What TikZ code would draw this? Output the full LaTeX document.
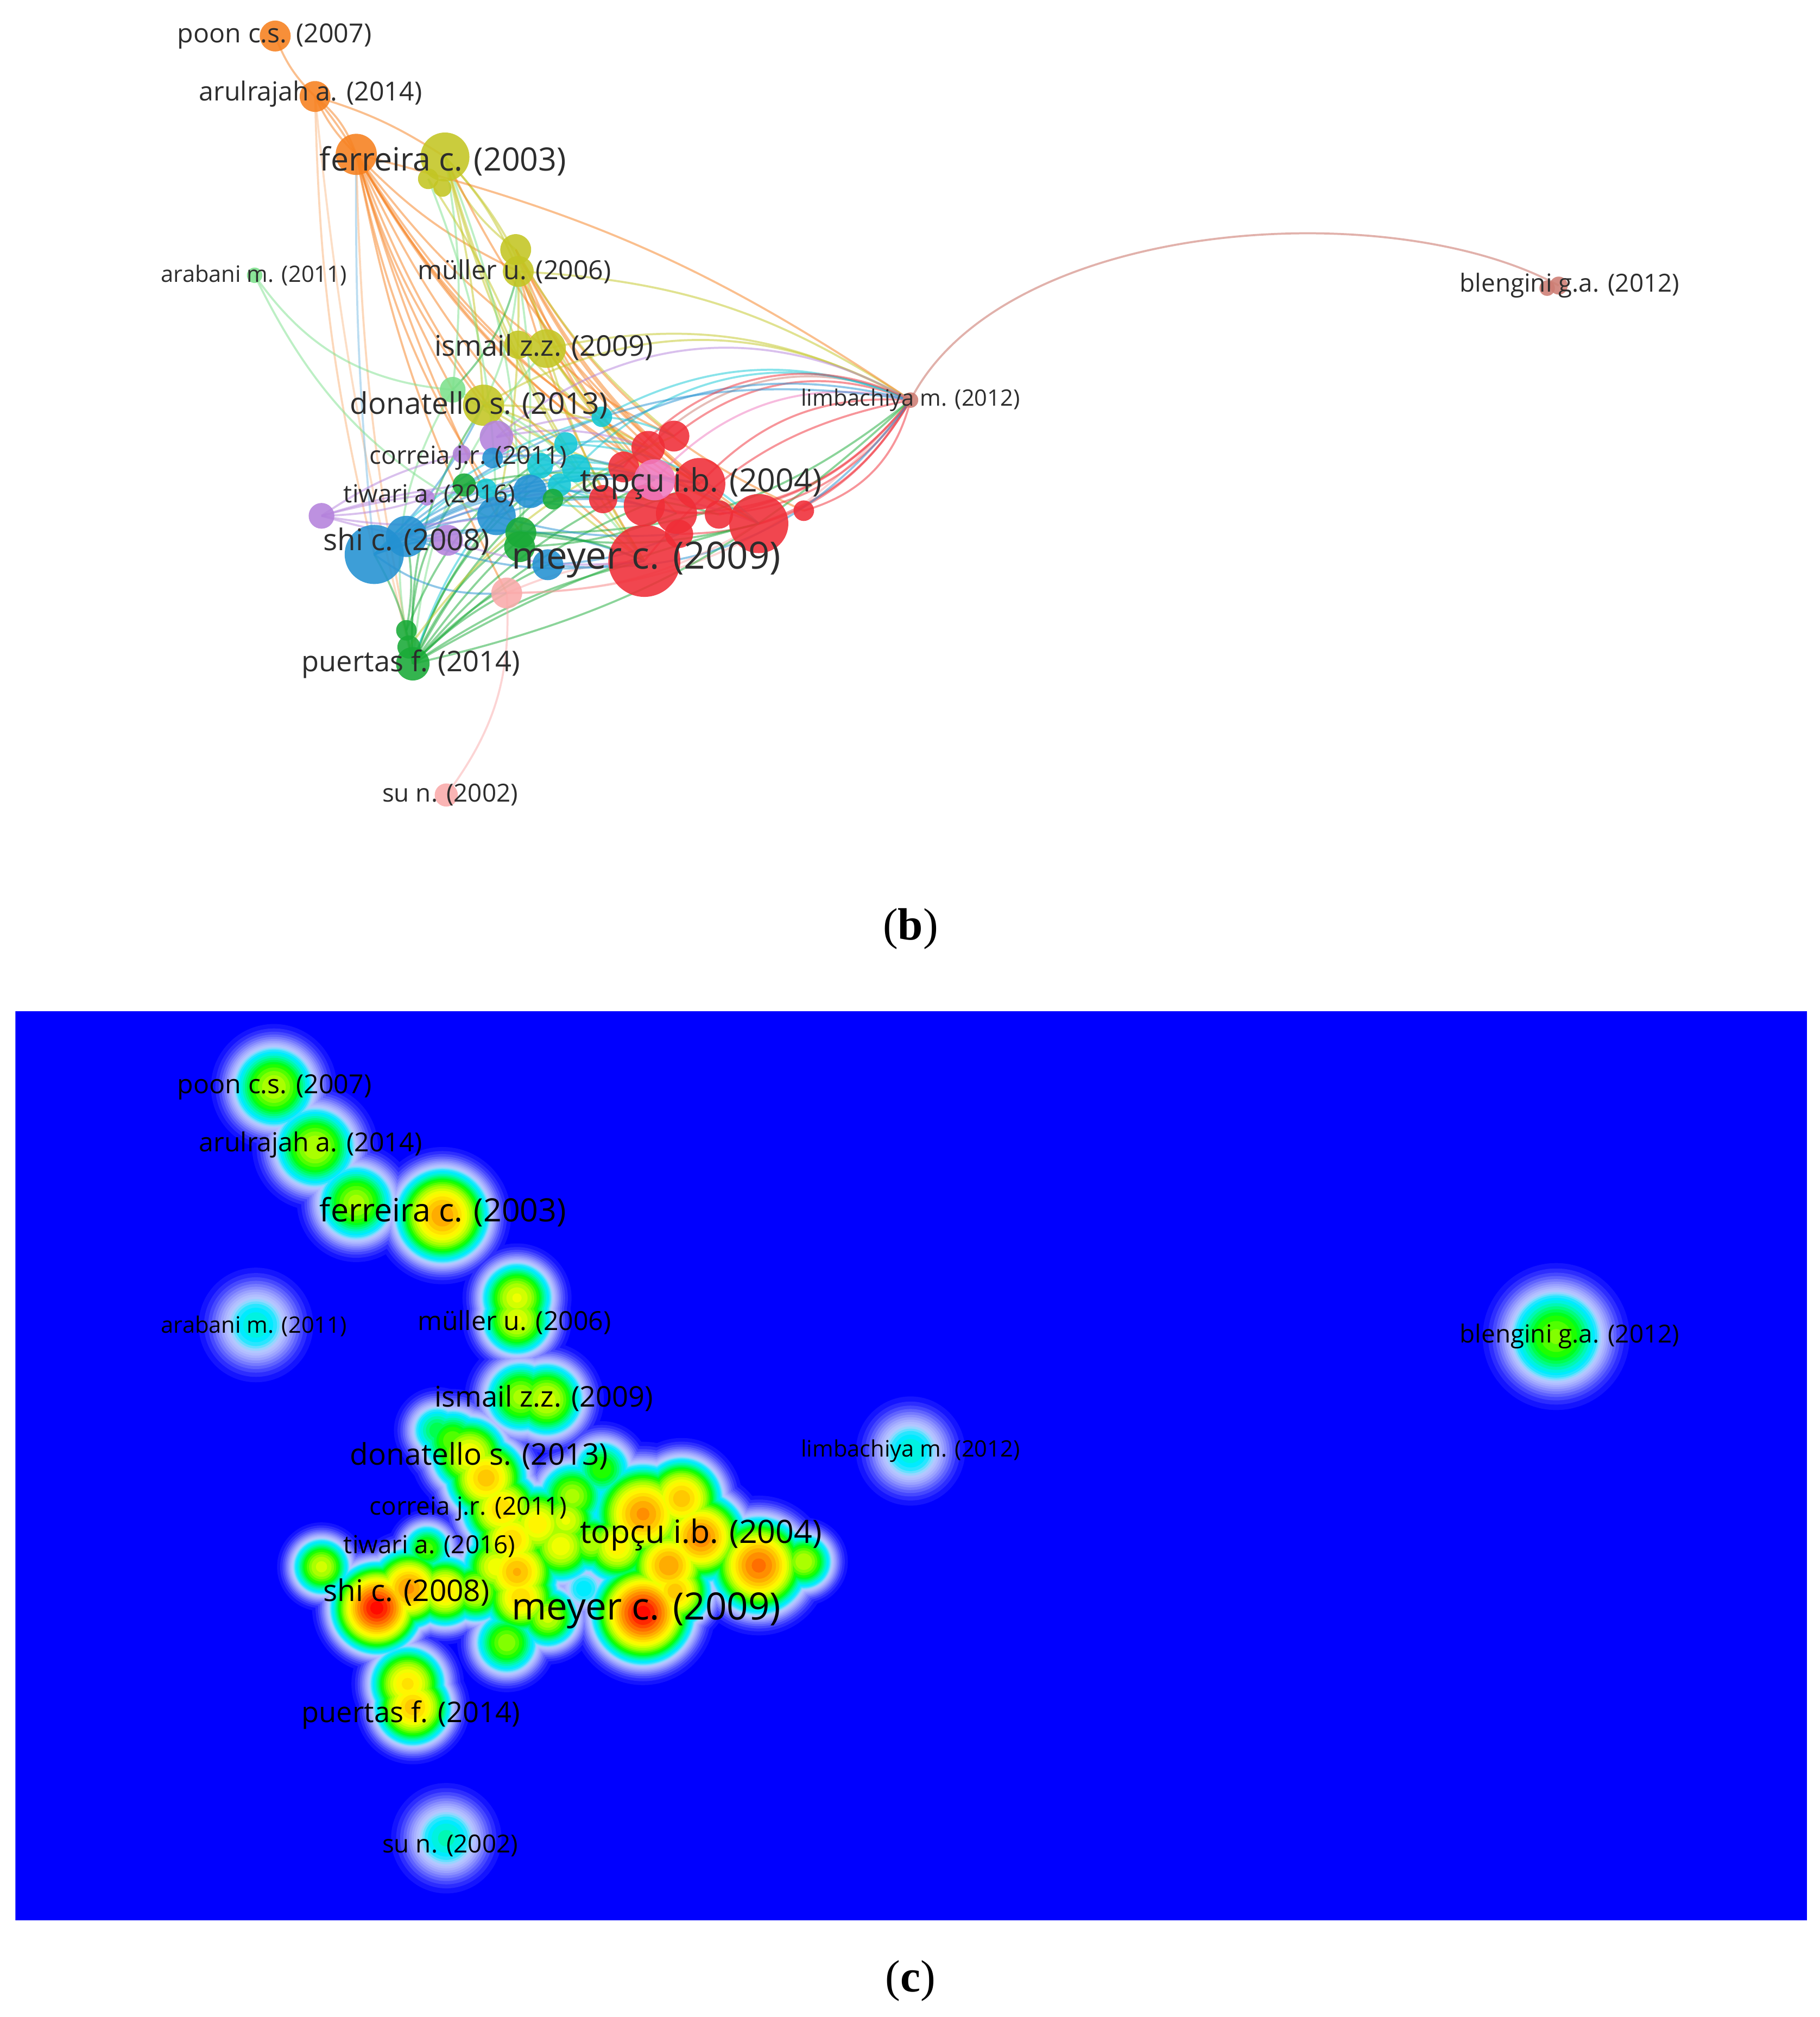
\documentclass[tikz,border=0pt]{standalone}
\usepackage{fontspec}
\newfontfamily\labfont{Open Sans}
\newfontfamily\capfont{Liberation Serif}
\definecolor{cOr}{RGB}{247,128,30}
\definecolor{cOl}{RGB}{195,198,35}
\definecolor{cLg}{RGB}{125,225,140}
\definecolor{cGr}{RGB}{25,170,55}
\definecolor{cCy}{RGB}{20,200,215}
\definecolor{cBl}{RGB}{35,145,210}
\definecolor{cPu}{RGB}{180,130,220}
\definecolor{cRe}{RGB}{240,45,55}
\definecolor{cPk}{RGB}{240,120,190}
\definecolor{cLp}{RGB}{250,170,170}
\definecolor{cBr}{RGB}{205,125,115}
\definecolor{txt}{RGB}{45,45,45}
\definecolor{hblue}{RGB}{0,0,255}
\begin{document}
\def\nodelist{r1/501/436/28/cRe, b4/291/431/23/cBl, r9/590/407/23/cRe, r5/544/376/20/cRe,
 o1/214/28/12/cOr, o2/245/75/12/cOr, o3/277/120/16/cOr,
 y1/346/122/19/cOl, y2/333/139/8/cOl, y3/344/146/7/cOl, y4/401/194/12/cOl, y5/403/211/12/cOl,
 y6/403/268/11/cOl, y7/425/271/15/cOl, lg1/198/214/6/cLg, lg2/352/303/10/cLg, y8/376/315/16/cOl,
 c1/468/324/8/cCy, c2/440/345/9/cCy, c3/448/364/11/cCy, c4/435/377/9/cCy, c5/420/362/10/cCy, c6/378/380/8/cCy,
 p1/386/340/13/cPu, p2/359/353/7/cPu, p3/332/387/6/cPu, p4/250/401/10/cPu, p5/348/420/12/cPu,
 b1/383/356/8/cBl, b2/412/382/13/cBl, b3/386/401/15/cBl, b5/316/417/16/cBl, b6/426/439/12/cBl,
 g1/361/377/9/cGr, g2/430/388/8/cGr, g3/405/414/12/cGr, g4/404/425/12/cGr,
 g5/316/490/8/cGr, g6/318/503/9/cGr, g7/321/516/13/cGr,
 lp1/394/461/12/cLp, lp2/347/618/9/cLp,
 r2/524/339/12/cRe, r3/504/348/13/cRe, r4/485/363/12/cRe, r6/526/399/16/cRe, r7/469/388/11/cRe,
 r8/501/393/16/cRe, r10/559/400/11/cRe, r11/625/397/8/cRe, r12/528/415/11/cRe, pk1/509/373/16/cPk,
 br1/708/311/6/cBr, br3/1203/224/6/cBr, br2/1212/222/7/cBr}
\def\edgelist{o1/o2/cOr/-12, o2/o3/cOr/-10, o2/o3/cOr/4, o2/o3/cOr/15, o2/y1/cOr/8, o2/b4/cOr!60/-6, o2/g7/cOr!50/-4,
 o3/y8/cOr/-10, o3/lp1/cOr/-8, o3/b3/cOr/-5, o3/g3/cOr/-12, o3/r1/cOr/-15, o3/c3/cOr/-10, o3/r3/cOr/-15,
 o3/pk1/cOr/-12, o3/y5/cOr/-10, o3/y7/cOr/-8, o3/r9/cOr/-18, o3/r5/cOr/-14, o3/b4/cBl!60/-3, o3/g7/cOr!60/-5, o3/lg2/cOr/-6,
 y1/y4/cOl/-15, y1/y5/cOl/10, y1/y7/cOl/15, y1/y8/cOl/5, y1/lg2/cLg/8, y1/r1/cOl/-10, y1/r5/cOr/-12, y1/c3/cOl/-8, y1/g3/cLg/10,
 y2/y6/cOl/5, y2/b3/cLg/10, y4/r9/cOr/-14, y4/r5/cOr/-12, y4/r11/cOr/-18, y4/r2/cOl/-10, y4/pk1/cOr/-10,
 y5/r1/cOr/-8, y5/c1/cOl/-6, y5/r6/cOr/-10, y5/r9/cOr/-16, y5/g3/cLg/8, y5/y8/cLg/10, y5/b3/cOl/6, y5/lg2/cGr/15,
 y6/r5/cOl/-10, y7/r2/cOr/-10, y7/r9/cOr/-15, y7/c1/cOl/-5, y7/pk1/cOl/-6, y7/r1/cOl/-8, y8/r1/cOl/-10, y8/r5/cOl/-12,
 r1/br1/cRe/20, r5/br1/cRe/25, r9/br1/cRe/-20, r6/br1/cRe/-25, r2/br1/cRe/30, r3/br1/cBr/35, pk1/br1/cPk/30,
 c1/br1/cCy/25, c3/br1/cCy/35, b3/br1/cBl/30, b4/br1/cBl/25, g3/br1/cGr/-20, y8/br1/cOl/30, y7/br1/cOl/20,
 y5/br1/cOl/15, lp1/br1/cLp/-25, g7/br1/cGr/-15, o3/br1/cOr/10, r11/br1/cRe/-30, r10/br1/cRe/-20,
 r12/br1/cRe/-30, r8/br1/cRe/-35, r4/br1/cRe/40, b6/br1/cBl/-30, p1/br1/cPu/35,
 g7/b3/cGr/10, g7/g3/cGr/15, g7/g1/cGr/20, g7/c3/cGr/12, g7/y8/cGr/18, g7/lg2/cLg/22, g7/r1/cGr/10, g7/r5/cGr/12,
 g7/r9/cGr/8, g7/pk1/cGr/12, g7/b2/cGr/15, g7/c5/cCy/15, g7/y7/cLg/18, g7/r3/cGr/12, g7/b6/cGr/10, g7/lp1/cGr/8,
 g5/c2/cGr/18, g6/r2/cOl/15, g7/b4/cGr/-10, g5/b5/cGr/-10,
 b4/r1/cBl/20, b4/r5/cBl/22, b4/pk1/cBl/18, b4/g3/cBl/15, b4/b3/cBl/12, b4/c3/cBl/15, b4/p5/cBl/10, b4/lp1/cBl/-20,
 b4/r9/cPu/25, b4/y8/cBl/-10, b4/c1/cCy/15, b5/r6/cBl/20, b5/c2/cCy/15, b5/b2/cBl/10,
 p4/p3/cPu/-8, p4/p2/cPu/10, p4/b3/cPu/-10, p4/b2/cPu/8, p4/g1/cPu/5, p4/p5/cPu/-5,
 lg1/lg2/cLg/-25, lg1/g3/cLg/-20, lp2/lp1/cLp/-20,
 c1/r2/cCy/10, c2/r3/cCy/10, c3/pk1/cCy/10, c4/r7/cCy/-10, c5/r4/cCy/10, b2/r8/cBl/10, g3/r1/cGr/10, g4/r6/cGr/-10,
 b3/r7/cBl/10, p1/c1/cPu/10, p1/r3/cPu/15, p2/c3/cPu/10, g1/pk1/cGr/10, b1/r4/cBl/10, c6/r8/cCy/-10, lp1/r1/cLp/10,
 lp1/r9/cLp/-15, b6/r12/cBl/-10, g2/r10/cGr/10, c2/r9/cCy/20, c3/r9/cCy/15, b2/r5/cBl/15, g3/r9/cGr/-12,
 y8/c2/cOl/10, y8/r3/cOl/15, lg2/c3/cLg/12, lg2/r1/cLg/10, p5/r1/cPu/-12, b5/r1/cBl/-15, b3/r12/cBl/-10}
\def\labellist{poon/213.5/28/5.8/poon c.s. (2007), arul/241.5/73/5.8/arulrajah a. (2014),
 ferr/344.5/125/7.1/ferreira c. (2003), arab/197.5/214/5.0/arabani m. (2011),
 mull/400/211/5.8/müller u. (2006), isma/423/270/6.3/ismail z.z. (2009),
 dona/372.5/315/6.6/donatello s. (2013), limb/708/311/5.0/limbachiya m. (2012),
 bleng/1220.5/222/5.5/blengini g.a. (2012), corr/364/356/5.5/correia j.r. (2011),
 topc/545/376/7.1/topçu i.b. (2004), tiwa/334/385/5.5/tiwari a. (2016),
 shic/316/421/6.6/shi c. (2008), meye/502.5/435/8.3/meyer c. (2009),
 puer/319.5/516/6.3/puertas f. (2014), sunn/350/618/5.5/su n. (2002)}
\def\heatlist{213/28/.40/20, 245/75/.40/20, 277/118/.38/19, 344/128/.70/20, 199/213/.19/21,
 402/192/.45/17, 402/209/.45/17, 405/269/.38/18, 425/271/.43/18, 352/303/.33/17, 340/295/.25/15,
 365/314/.50/18, 378/332/.62/18, 390/356/.58/18, 398/380/.58/18, 402/405/.65/18, 405/425/.58/17,
 418/368/.52/18, 436/385/.48/17, 445/346/.38/17, 468/325/.30/16, 440/365/.45/16, 460/382/.40/15,
 454/418/.17/14, 370/420/.45/15,
 500/360/.72/21, 530/348/.62/18, 545/378/.76/19, 480/385/.52/17, 520/400/.70/18,
 590/400/.80/20, 625/397/.40/14, 500/437/1.0/20, 525/420/.62/16, 394/460/.36/16, 426/440/.42/15,
 293/433/1.0/18, 318/418/.72/17, 346/420/.56/16, 386/401/.48/16, 250/401/.42/14, 332/387/.32/13,
 317/492/.55/17, 321/510/.62/17, 347/612/.20/20, 708/311/.19/20, 1210/222/.34/24}
\begin{tikzpicture}[x=0.1mm,y=-0.1mm,
  edge/.style={line width=0.45pt, draw opacity=0.5},
  dot/.style={circle, inner sep=0pt, outer sep=0pt, draw=none, fill opacity=0.88},
  lab/.style={inner sep=0pt, text=txt},
  hlab/.style={inner sep=0pt, text=black},
  capt/.style={inner sep=0pt, font=\capfont\fontsize{10}{12}\selectfont}]
\useasboundingbox (0,0) rectangle (1415,1568);
\fill[white] (0,0) rectangle (1415,1568);
% ---------- network (b) ----------
\foreach \nn/\xx/\yy/\rad/\col in \nodelist {\coordinate (\nn) at (\xx,\yy);}
\foreach \ea/\eb/\ec/\bd in \edgelist {\draw[edge, draw=\ec] (\ea) to[bend left=\bd] (\eb);}
\draw[edge, draw=cBr, draw opacity=0.6] (br1) .. controls (780,170) and (1080,150) .. (br2);
\foreach \nn/\xx/\yy/\rad/\col in \nodelist {
  \pgfmathsetmacro\dd{0.2*\rad}
  \node[dot, fill=\col, minimum size=\dd mm] (N\nn) at (\nn) {};}
\foreach \nn/\xx/\yy/\sz/\txtt in \labellist {
  \node[lab, font=\labfont\fontsize{\sz}{\sz}\selectfont] (L\nn) at (\xx,\yy) {\txtt};}
\node[capt] (capb) at (708,722) {(\textbf{b})};
% ---------- density map (c) ----------
\begin{scope}
\clip (12,786) rectangle (1405,1493);
\fill[hblue] (12,786) rectangle (1405,1493);
\foreach \lv/\RR/\GG/\BB in {0.02/20/20/255, 0.03/45/45/255, 0.04/70/72/255, 0.05/95/98/255,
  0.06/118/122/255, 0.07/138/143/255, 0.08/155/162/255, 0.09/168/177/255, 0.10/178/190/255,
  0.11/178/200/255, 0.12/150/214/255, 0.13/100/224/255, 0.14/40/230/255, 0.155/0/235/255,
  0.17/0/242/225, 0.19/0/248/180, 0.21/0/252/130, 0.23/0/255/80, 0.25/0/255/30, 0.27/30/255/0,
  0.30/80/255/0, 0.33/130/255/0, 0.36/170/255/0, 0.40/210/255/0, 0.44/240/255/0, 0.48/255/245/0,
  0.53/255/225/0, 0.58/255/200/0, 0.64/255/172/0, 0.70/255/142/0, 0.77/255/110/0, 0.84/255/75/0,
  0.90/255/40/0, 0.96/255/10/0} {
  \definecolor{lvl}{RGB}{\RR,\GG,\BB}
  \foreach \xx/\yy/\ww/\ss in \heatlist {
    \pgfmathparse{\ww>\lv}
    \ifdim\pgfmathresult pt>0.5pt
      \pgfmathsetmacro\rr{0.1*\ss*sqrt(2*ln(\ww/\lv))}
      \fill[lvl] (\xx,{\yy+817}) circle[radius=\rr mm];
    \fi
  }
}
\end{scope}
\foreach \nn/\xx/\yy/\sz/\txtt in \labellist {
  \node[hlab, font=\labfont\fontsize{\sz}{\sz}\selectfont] (H\nn) at (\xx,{\yy+817}) {\txtt};}
\node[capt] (capc) at (708,1540) {(\textbf{c})};
\end{tikzpicture}
\end{document}
